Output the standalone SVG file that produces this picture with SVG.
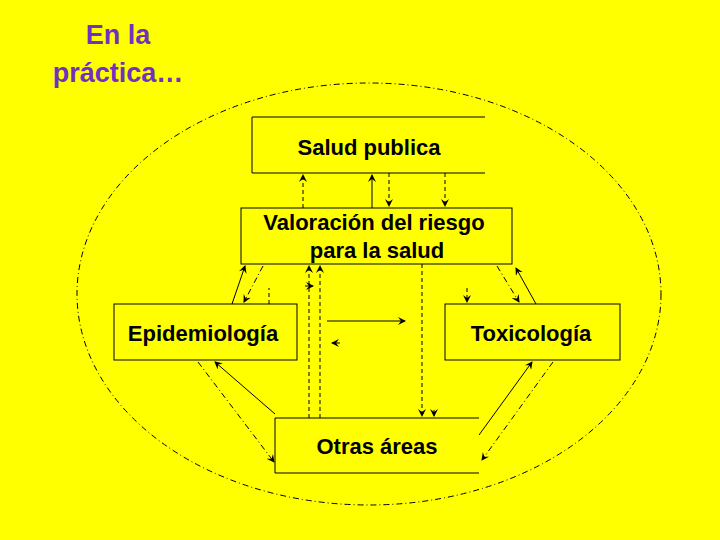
<svg xmlns="http://www.w3.org/2000/svg" width="720" height="540" viewBox="0 0 720 540">
<style>
.b{fill:#ffff00;stroke:#000;stroke-width:1}
.t{font-family:"Liberation Sans",Arial,sans-serif;font-weight:bold;font-size:22px;fill:#000;text-anchor:middle}
.c{stroke:#000;stroke-width:1;fill:none}
.d{stroke-dasharray:4,3}
.dd{stroke-dasharray:6,3,1,3}
</style>
<defs><marker id="a" markerWidth="8" markerHeight="8" refX="7" refY="4" orient="auto" markerUnits="userSpaceOnUse"><path d="M0,0L8,4L0,8L3,4z" fill="#000"/></marker></defs>
<rect width="720" height="540" fill="#ffff00"/>
<text x="118" y="44" font-family="Liberation Sans,Arial,sans-serif" font-weight="bold" font-size="27" fill="#7030c0" text-anchor="middle">En la</text>
<text x="118" y="82" font-family="Liberation Sans,Arial,sans-serif" font-weight="bold" font-size="27" fill="#7030c0" text-anchor="middle">práctica…</text>
<ellipse cx="369" cy="294" rx="292" ry="211" class="c dd"/>
<g id="connectors">
<path class="c d" d="M303,208V175" marker-end="url(#a)"/>
<path class="c" d="M372,208V175" marker-end="url(#a)"/>
<path class="c d" d="M389,173V206" marker-end="url(#a)"/>
<path class="c d" d="M445,173V206" marker-end="url(#a)"/>
<path class="c" d="M232,304L245,266" marker-end="url(#a)"/>
<path class="c dd" d="M263,266L244,302" marker-end="url(#a)"/>
<path class="c d" d="M269,304V288"/>
<path class="c d" d="M309,418V266" marker-end="url(#a)"/>
<path class="c d" d="M320,418V266" marker-end="url(#a)"/>
<path class="c" d="M305,286h8" marker-end="url(#a)"/>
<path class="c d" d="M422,264V416" marker-end="url(#a)"/>
<path class="c" d="M434,410v6" marker-end="url(#a)"/>
<path class="c d" d="M467,288V302" marker-end="url(#a)"/>
<path class="c dd" d="M497,266L519,302" marker-end="url(#a)"/>
<path class="c" d="M536,304L516,268" marker-end="url(#a)"/>
<path class="c" d="M327,321H405" marker-end="url(#a)"/>
<path class="c" d="M340,343h-8" marker-end="url(#a)"/>
<path class="c" d="M275,414L215,362" marker-end="url(#a)"/>
<path class="c dd" d="M198,362L274,462" marker-end="url(#a)"/>
<path class="c" d="M479,435L532,362" marker-end="url(#a)"/>
<path class="c dd" d="M553,362L482,460" marker-end="url(#a)"/>
</g>
<g id="salud"><path class="b" d="M485,117H252V173H485"/><text class="t" x="369" y="155">Salud publica</text></g>
<g id="valoracion"><rect class="b" x="241" y="208" width="271" height="56"/><text class="t" x="374" y="230">Valoración del riesgo</text><text class="t" x="377" y="258">para la salud</text></g>
<g id="epi"><rect class="b" x="114" y="304" width="183" height="56"/><text class="t" x="203" y="341" font-size="21">Epidemiología</text></g>
<g id="toxi"><rect class="b" x="445" y="304" width="175" height="56"/><text class="t" x="531" y="341" font-size="21">Toxicología</text></g>
<g id="otras"><path class="b" d="M479,418H275V473H479"/><text class="t" x="377" y="454">Otras áreas</text></g>
</svg>
